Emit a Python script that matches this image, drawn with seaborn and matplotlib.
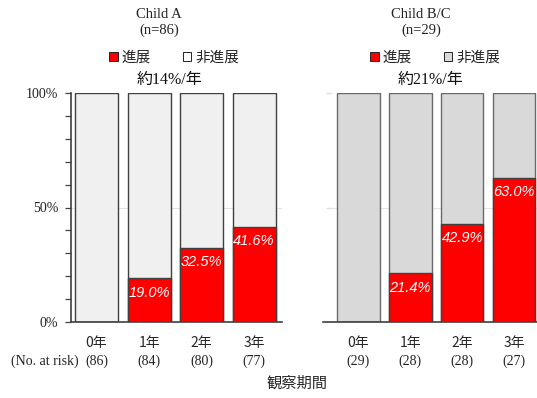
import matplotlib
matplotlib.use("Agg")
import matplotlib.pyplot as plt
from matplotlib.patches import Patch
from matplotlib.ticker import MultipleLocator, FixedLocator
import seaborn as sns
import pandas as pd

# ---- data ----
years = ["0年", "1年", "2年", "3年"]
progress_a = [0.0, 19.0, 32.5, 41.6]
progress_bc = [0.0, 21.4, 42.9, 63.0]
at_risk_a = [86, 84, 80, 77]
at_risk_bc = [29, 28, 28, 27]
panel_titles = ["Child A\n(n=86)", "Child B/C\n(n=29)"]
annual_rates = ["約14%/年", "約21%/年"]
legend_labels = ["進展", "非進展"]

sns.set_style("white")
plt.rcParams["font.family"] = ["DejaVu Sans"]

CJK = ["Noto Sans CJK JP", "DejaVu Sans"]
SERIF = ["Liberation Serif", "Noto Sans CJK JP"]
RED = "#ff0000"

fig = plt.figure(figsize=(5.37, 3.98), dpi=100)
ax_a = fig.add_axes([71 / 537, 1 - 322 / 398, (282 - 71) / 537, 229 / 398])
ax_b = fig.add_axes([332 / 537, 1 - 322 / 398, (537 - 332) / 537, 229 / 398])


def draw_panel(ax, progress, at_risk, rest_color, edge_color, xlim):
    df = pd.DataFrame({"year": years, "total": [100.0] * len(years), "progress": progress})
    sns.barplot(data=df, x="year", y="total", color=rest_color, saturation=1,
                width=0.82, edgecolor=edge_color, linewidth=1.0, ax=ax, zorder=2)
    sns.barplot(data=df, x="year", y="progress", color=RED, saturation=1,
                width=0.82, edgecolor="#404040", linewidth=1.0, ax=ax, zorder=3)
    ax.set_xlim(*xlim)
    ax.set_ylim(0, 100)
    ax.set_xlabel("")
    ax.set_ylabel("")
    ax.axhline(50, color="#e4e4e4", lw=0.8, zorder=1)
    for i, v in enumerate(progress):
        if v > 0:
            ax.annotate(f"{v:.1f}%", (i, v), xytext=(0, -5.5), textcoords="offset points",
                        ha="center", va="top", color="white", fontsize=10.5,
                        fontstyle="italic", family="Liberation Sans", zorder=4)
    ax.set_xticks(range(len(years)))
    ax.set_xticklabels(years, family=CJK, fontsize=10)
    ax.tick_params(axis="x", length=0, pad=10)
    for i, n in enumerate(at_risk):
        ax.text(i, -0.172, f"({n})", transform=ax.get_xaxis_transform(),
                ha="center", va="center", family=SERIF, fontsize=10, color="#222222")
    for side in ("top", "right"):
        ax.spines[side].set_visible(False)
    ax.spines["bottom"].set_color("#404040")
    ax.spines["bottom"].set_linewidth(1.2)


draw_panel(ax_a, progress_a, at_risk_a, "#f0f0f0", "#404040", (-0.486, 3.53))
draw_panel(ax_b, progress_bc, at_risk_bc, "#d9d9d9", "#6a6a6a", (-0.506, 3.44))

# left panel y axis with percent labels
ax_a.spines["left"].set_color("#404040")
ax_a.spines["left"].set_linewidth(1.2)
ax_a.yaxis.set_major_locator(FixedLocator([0, 50, 100]))
ax_a.yaxis.set_minor_locator(MultipleLocator(10))
ax_a.set_yticklabels(["0%", "50%", "100%"], family=SERIF, fontsize=10, color="#222222")
ax_a.tick_params(axis="y", which="both", direction="out", length=4, width=0.9,
                 color="#404040", pad=5, left=True)

# right panel: faint ticks only, baseline running a little past the left edge
ax_b.spines["left"].set_visible(False)
ax_b.spines["bottom"].set_bounds(-0.68, 3.44)
ax_b.yaxis.set_major_locator(FixedLocator([50, 100]))
ax_b.set_yticklabels([])
ax_b.tick_params(axis="y", direction="out", length=4, width=1.0, color="#e0e0e0", left=True)

# titles, legends, rates
title_x = [159 / 537, 421 / 537]
legend_x = [174 / 537, 435 / 537]
rate_x = [169 / 537, 430 / 537]
rest_colors = ["#ffffff", "#d9d9d9"]
for k in range(2):
    fig.text(title_x[k], 1 - 22.5 / 398, panel_titles[k], ha="center", va="center",
             family=SERIF, fontsize=10.5, linespacing=1.3, color="#222222")
    fig.text(rate_x[k], 1 - 80 / 398, annual_rates[k], ha="center", va="center",
             family=SERIF, fontsize=11.5, color="#111111")
    handles = [Patch(facecolor=RED, edgecolor="#222222", linewidth=0.7),
               Patch(facecolor=rest_colors[k], edgecolor="#222222", linewidth=0.7)]
    fig.legend(handles, legend_labels, loc="center", bbox_to_anchor=(legend_x[k], 1 - 58 / 398),
               ncol=2, frameon=False, handlelength=0.6, handleheight=0.6, handletextpad=0.25,
               columnspacing=2.2, prop={"family": CJK, "size": 10.5})

fig.text(45 / 537, 1 - 361 / 398, "(No. at risk)", ha="center", va="center",
         family=SERIF, fontsize=10, color="#222222")
fig.text(0.553, 1 - 383 / 398, "観察期間", ha="center", va="center", family=CJK, fontsize=11)

fig.savefig("out.png", dpi=100)
